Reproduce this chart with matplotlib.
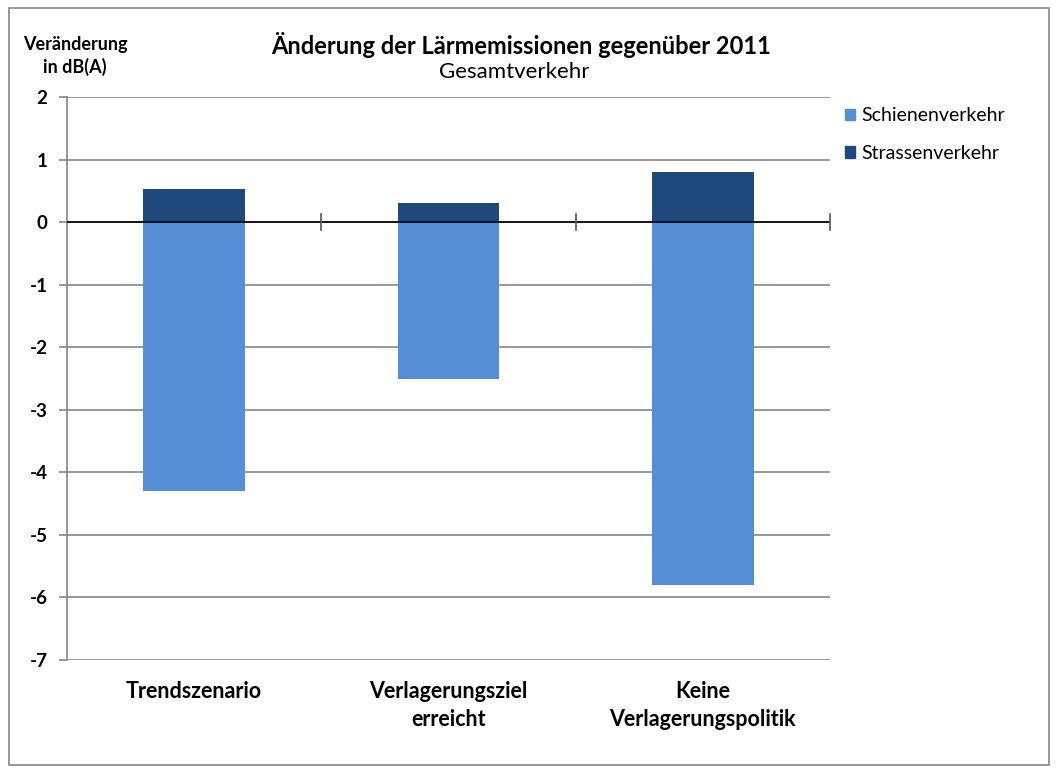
import matplotlib.pyplot as plt
from matplotlib.patches import Rectangle
import numpy as np

plt.rcParams['font.family'] = ['Lato', 'DejaVu Sans']

categories = ["Trendszenario", "Verlagerungsziel\nerreicht", "Keine\nVerlagerungspolitik"]
schiene = [-4.3, -2.5, -5.8]
strasse = [0.53, 0.30, 0.80]
series_names = ["Schienenverkehr", "Strassenverkehr"]

c_schiene = "#558ed5"
c_strasse = "#1f497d"

fig = plt.figure(figsize=(10.61, 7.73), dpi=100)
ax = fig.add_axes([67 / 1061, 1 - 660 / 773, (830 - 67) / 1061, (660 - 97) / 773])

x = np.arange(len(categories))
ax.bar(x, schiene, width=0.4, color=c_schiene, zorder=3)
ax.bar(x, strasse, width=0.4, color=c_strasse, zorder=3)

ax.set_xlim(-0.5, 2.5)
ax.set_ylim(-7, 2)
ax.set_yticks(range(-7, 3))
ax.set_yticklabels([str(v) for v in range(-7, 3)], fontsize=13.5, fontweight='bold')
ax.yaxis.grid(True, color='#868686', linewidth=1.2, zorder=0)
ax.tick_params(axis='y', length=6, width=1.2, color='#868686', pad=8)

# x axis at zero with crossing ticks at category boundaries
ax.spines['top'].set_visible(False)
ax.spines['right'].set_visible(False)
ax.spines['bottom'].set_visible(False)
ax.spines['left'].set_color('#868686')
ax.spines['left'].set_linewidth(1.2)
ax.axhline(0, color='black', linewidth=1.2, zorder=4)
for b in [0.5, 1.5, 2.5]:
    ax.plot([b, b], [-0.13, 0.13], color='#555555', linewidth=1.2, zorder=4, clip_on=False)

ax.set_xticks(x)
ax.set_xticklabels(categories, fontsize=15.5, fontweight='bold', linespacing=1.45)
ax.tick_params(axis='x', length=0, pad=15)

fig.text(521 / 1061, 1 - 45 / 773, "Änderung der Lärmemissionen gegenüber 2011",
         ha='center', va='center', fontsize=17, fontweight='bold')
fig.text(514 / 1061, 1 - 72 / 773, "Gesamtverkehr", ha='center', va='center', fontsize=16)
fig.text(75 / 1061, 1 - 56 / 773, "Veränderung\nin dB(A)", ha='center', va='center',
         fontsize=13, fontweight='bold', linespacing=1.3)

# legend
handles = [Rectangle((0, 0), 1, 1, color=c_schiene), Rectangle((0, 0), 1, 1, color=c_strasse)]
fig.legend(handles, series_names, loc='upper left', bbox_to_anchor=(827 / 1061, 1 - 90 / 773),
           frameon=False, fontsize=14, handlelength=0.55, handleheight=0.55,
           handletextpad=0.3, labelspacing=1.05)

# outer border
fig.patches.append(Rectangle((9 / 1061, 8 / 773), 1040 / 1061, 1 - 16 / 773, transform=fig.transFigure,
                             fill=False, edgecolor='#868686', linewidth=1.2))

fig.savefig("out.png", dpi=100)
